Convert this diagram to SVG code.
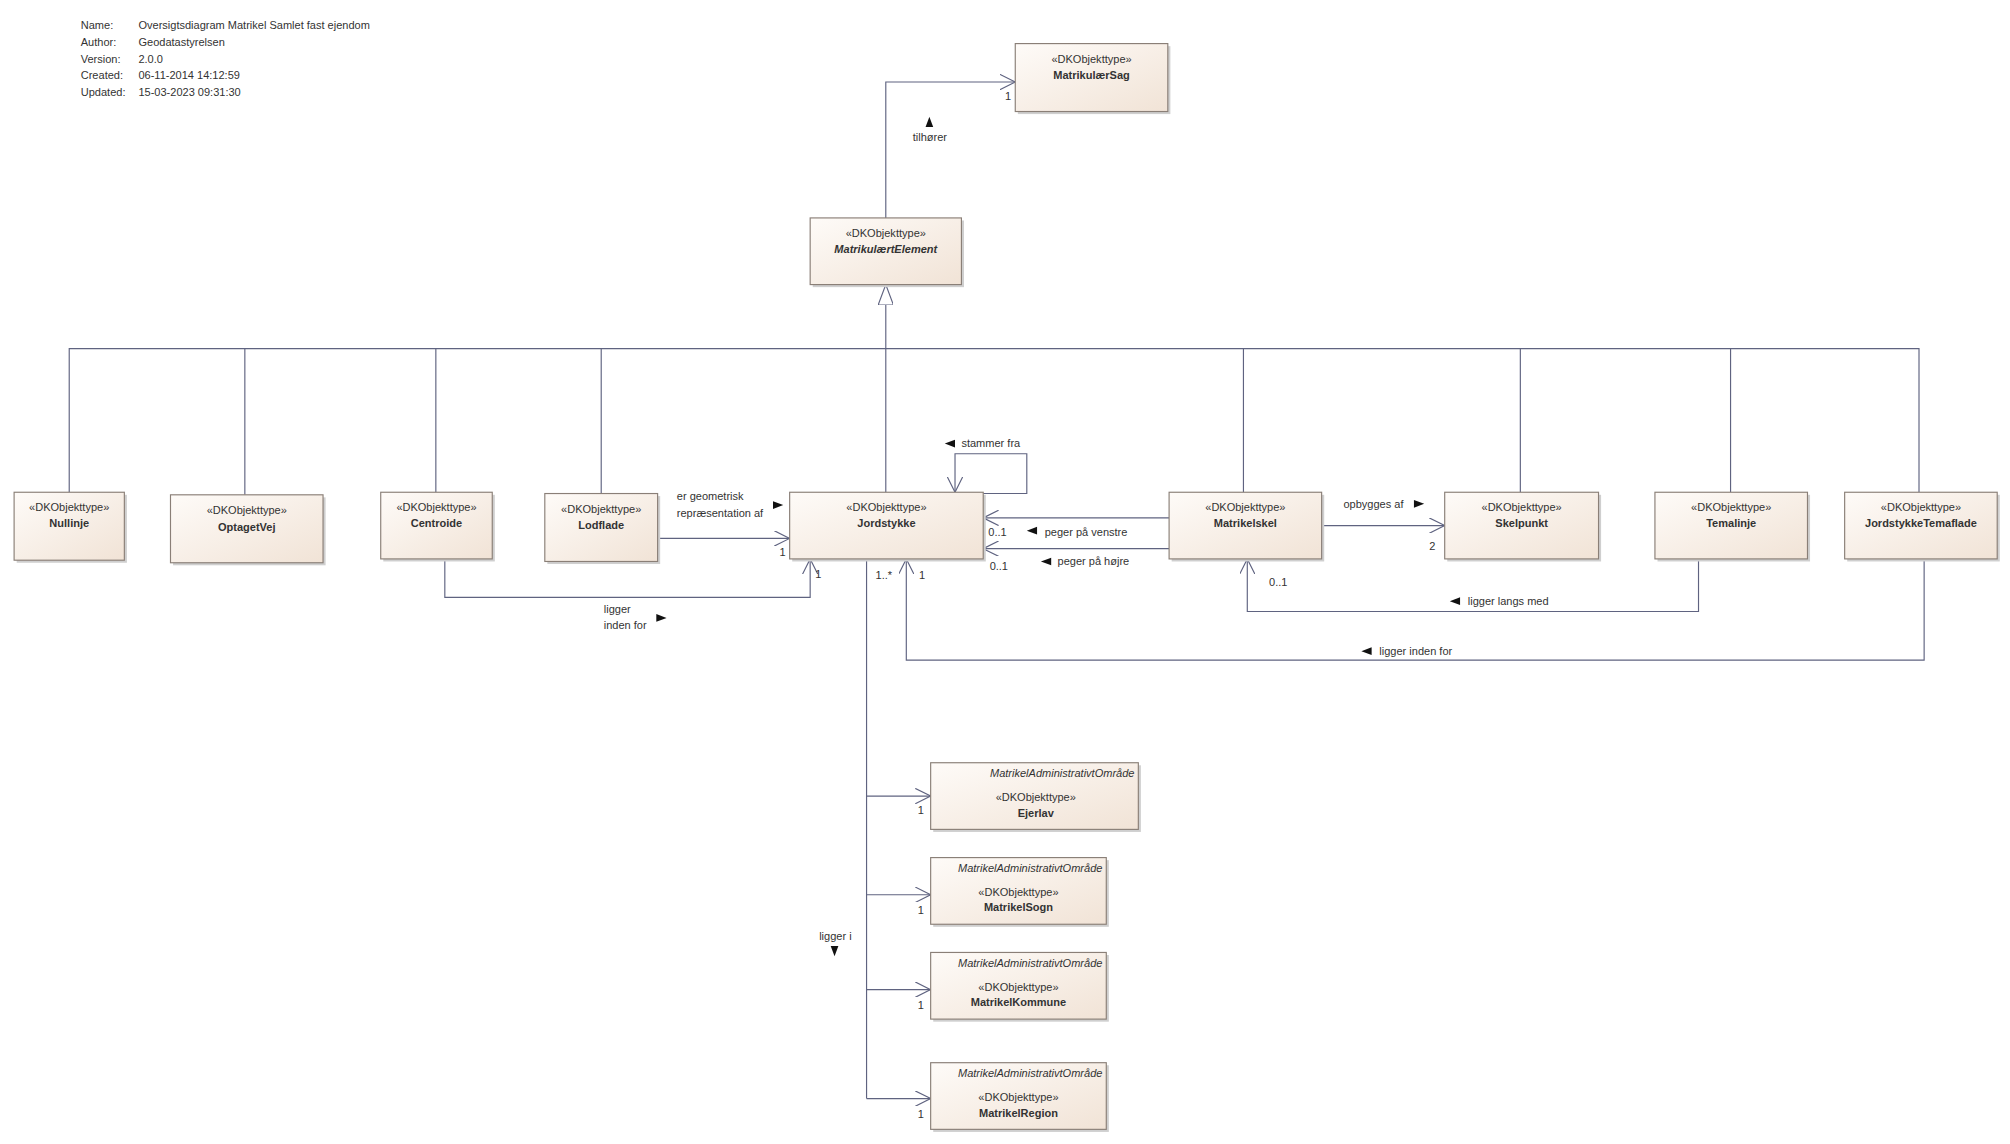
<svg xmlns="http://www.w3.org/2000/svg" width="2010" height="1144" viewBox="0 0 2010 1144">
<style>
text{font-family:"Liberation Sans",Arial,sans-serif;fill:#333;font-size:8.6px}
.st{text-anchor:middle}
.nm{text-anchor:middle;font-weight:bold}
.it{font-style:italic}
.box{fill:url(#g);stroke:#8a7f77;stroke-width:0.9}
.sh{fill:#cfcfcf}
.c{fill:none;stroke:#5f6380;stroke-width:0.9}
.tri{fill:#111}
</style>
<defs>
<linearGradient id="g" x1="0" y1="0" x2="1" y2="1"><stop offset="0" stop-color="#fefbf8"/><stop offset="1" stop-color="#f1e3d6"/></linearGradient>
<marker id="a" viewBox="0 0 12 12" refX="12" refY="6" markerWidth="12" markerHeight="12" markerUnits="userSpaceOnUse" orient="auto"><path d="M0,0 L12,6 L0,12" fill="none" stroke="#5f6380" stroke-width="0.9"/></marker>
<marker id="gen" viewBox="0 0 16 12" refX="16" refY="6" markerWidth="16" markerHeight="12" markerUnits="userSpaceOnUse" orient="auto"><path d="M0,0 L16,6 L0,12 Z" fill="#fff" stroke="#5f6380" stroke-width="0.9"/></marker>
</defs>
<rect width="2010" height="1144" fill="#fff"/>
<g transform="scale(1.2819)">
<g id="header">
<text x="63" y="23">Name:</text><text x="108" y="23">Oversigtsdiagram Matrikel Samlet fast ejendom</text>
<text x="63" y="36">Author:</text><text x="108" y="36">Geodatastyrelsen</text>
<text x="63" y="49">Version:</text><text x="108" y="49">2.0.0</text>
<text x="63" y="62">Created:</text><text x="108" y="62">06-11-2014 14:12:59</text>
<text x="63" y="75">Updated:</text><text x="108" y="75">15-03-2023 09:31:30</text>
</g>
<g id="connectors">
<path class="c" d="M691,170 V64 H792" marker-end="url(#a)"/>
<path class="c" d="M54,384 V272 H1497 V384 M191,272 V386 M340,272 V384 M469,272 V385 M970,272 V384 M1186,272 V384 M1350,272 V384"/>
<path class="c" d="M691,384 V222" marker-end="url(#gen)"/>
<path class="c" d="M767,385 H801 V354 H745 V384" marker-end="url(#a)"/>
<path class="c" d="M513,420 H616" marker-end="url(#a)"/>
<path class="c" d="M347,436 V466 H632 V436" marker-end="url(#a)"/>
<path class="c" d="M912,404 H767" marker-end="url(#a)"/>
<path class="c" d="M912,428 H767" marker-end="url(#a)"/>
<path class="c" d="M1031,410 H1127" marker-end="url(#a)"/>
<path class="c" d="M1325,436 V477 H973 V436" marker-end="url(#a)"/>
<path class="c" d="M1501,436 V515 H707 V436" marker-end="url(#a)"/>
<path class="c" d="M676,436 V857"/>
<path class="c" d="M676,621 H726" marker-end="url(#a)"/>
<path class="c" d="M676,698 H726" marker-end="url(#a)"/>
<path class="c" d="M676,772 H726" marker-end="url(#a)"/>
<path class="c" d="M676,857 H726" marker-end="url(#a)"/>
<text x="784" y="78">1</text>
<polygon class="tri" points="725,91 728,99 722,99"/><text x="712" y="110">tilhører</text>
<polygon class="tri" points="737,346 745,343 745,349"/><text x="750" y="349">stammer fra</text>
<text x="528" y="390">er geometrisk</text><text x="528" y="403">repræsentation af</text>
<polygon class="tri" points="611,394 603,391 603,397"/>
<text x="608" y="434">1</text>
<text x="471" y="478">ligger</text><text x="471" y="491">inden for</text>
<polygon class="tri" points="520,482 512,479 512,485"/>
<text x="636" y="451">1</text>
<text x="771" y="418">0..1</text>
<polygon class="tri" points="801,414 809,411 809,417"/><text x="815" y="418">peger på venstre</text>
<text x="772" y="445">0..1</text>
<polygon class="tri" points="812,438 820,435 820,441"/><text x="825" y="441">peger på højre</text>
<text x="1048" y="396">opbygges af</text><polygon class="tri" points="1111,393 1103,390 1103,396"/>
<text x="1115" y="429">2</text>
<text x="990" y="457">0..1</text>
<polygon class="tri" points="1131,469 1139,466 1139,472"/><text x="1145" y="472">ligger langs med</text>
<text x="717" y="452">1</text>
<polygon class="tri" points="1062,508 1070,505 1070,511"/><text x="1076" y="511">ligger inden for</text>
<text x="683" y="452">1..*</text>
<text x="716" y="635">1</text><text x="716" y="713">1</text><text x="716" y="787">1</text><text x="716" y="872">1</text>
<text x="639" y="733">ligger i</text><polygon class="tri" points="651,746 648,738 654,738"/>
</g>
<g id="MatrikulaerSag"><rect class="sh" x="794" y="36" width="119" height="53"/><rect class="box" x="792" y="34" width="119" height="53"/><text class="st" x="851.5" y="49">«DKObjekttype»</text><text class="nm" x="851.5" y="62">MatrikulærSag</text></g>
<g id="MatrikulaertElement"><rect class="sh" x="634" y="172" width="118" height="52"/><rect class="box" x="632" y="170" width="118" height="52"/><text class="st" x="691" y="185">«DKObjekttype»</text><text class="nm it" x="691" y="197">MatrikulærtElement</text></g>
<g id="Nullinje"><rect class="sh" x="13" y="386" width="86" height="53"/><rect class="box" x="11" y="384" width="86" height="53"/><text class="st" x="54" y="399">«DKObjekttype»</text><text class="nm" x="54" y="411">Nullinje</text></g>
<g id="OptagetVej"><rect class="sh" x="135" y="388" width="119" height="53"/><rect class="box" x="133" y="386" width="119" height="53"/><text class="st" x="192.5" y="401">«DKObjekttype»</text><text class="nm" x="192.5" y="414">OptagetVej</text></g>
<g id="Centroide"><rect class="sh" x="299" y="386" width="87" height="52"/><rect class="box" x="297" y="384" width="87" height="52"/><text class="st" x="340.5" y="399">«DKObjekttype»</text><text class="nm" x="340.5" y="411">Centroide</text></g>
<g id="Lodflade"><rect class="sh" x="427" y="387" width="88" height="53"/><rect class="box" x="425" y="385" width="88" height="53"/><text class="st" x="469" y="400">«DKObjekttype»</text><text class="nm" x="469" y="413">Lodflade</text></g>
<g id="Jordstykke"><rect class="sh" x="618" y="386" width="151" height="52"/><rect class="box" x="616" y="384" width="151" height="52"/><text class="st" x="691.5" y="399">«DKObjekttype»</text><text class="nm" x="691.5" y="411">Jordstykke</text></g>
<g id="Matrikelskel"><rect class="sh" x="914" y="386" width="119" height="52"/><rect class="box" x="912" y="384" width="119" height="52"/><text class="st" x="971.5" y="399">«DKObjekttype»</text><text class="nm" x="971.5" y="411">Matrikelskel</text></g>
<g id="Skelpunkt"><rect class="sh" x="1129" y="386" width="120" height="52"/><rect class="box" x="1127" y="384" width="120" height="52"/><text class="st" x="1187" y="399">«DKObjekttype»</text><text class="nm" x="1187" y="411">Skelpunkt</text></g>
<g id="Temalinje"><rect class="sh" x="1293" y="386" width="119" height="52"/><rect class="box" x="1291" y="384" width="119" height="52"/><text class="st" x="1350.5" y="399">«DKObjekttype»</text><text class="nm" x="1350.5" y="411">Temalinje</text></g>
<g id="JordstykkeTemaflade"><rect class="sh" x="1441" y="386" width="119" height="52"/><rect class="box" x="1439" y="384" width="119" height="52"/><text class="st" x="1498.5" y="399">«DKObjekttype»</text><text class="nm" x="1498.5" y="411">JordstykkeTemaflade</text></g>
<g id="Ejerlav"><rect class="sh" x="728" y="597" width="162" height="52"/><rect class="box" x="726" y="595" width="162" height="52"/><text class="it" x="885" y="606" text-anchor="end">MatrikelAdministrativtOmråde</text><text class="st" x="808" y="625">«DKObjekttype»</text><text class="nm" x="808" y="637">Ejerlav</text></g>
<g id="MatrikelSogn"><rect class="sh" x="728" y="671" width="137" height="52"/><rect class="box" x="726" y="669" width="137" height="52"/><text class="it" x="860" y="680" text-anchor="end">MatrikelAdministrativtOmråde</text><text class="st" x="794.5" y="699">«DKObjekttype»</text><text class="nm" x="794.5" y="711">MatrikelSogn</text></g>
<g id="MatrikelKommune"><rect class="sh" x="728" y="745" width="137" height="52"/><rect class="box" x="726" y="743" width="137" height="52"/><text class="it" x="860" y="754" text-anchor="end">MatrikelAdministrativtOmråde</text><text class="st" x="794.5" y="773">«DKObjekttype»</text><text class="nm" x="794.5" y="785">MatrikelKommune</text></g>
<g id="MatrikelRegion"><rect class="sh" x="728" y="831" width="137" height="52"/><rect class="box" x="726" y="829" width="137" height="52"/><text class="it" x="860" y="840" text-anchor="end">MatrikelAdministrativtOmråde</text><text class="st" x="794.5" y="859">«DKObjekttype»</text><text class="nm" x="794.5" y="871">MatrikelRegion</text></g>
</g>
</svg>
